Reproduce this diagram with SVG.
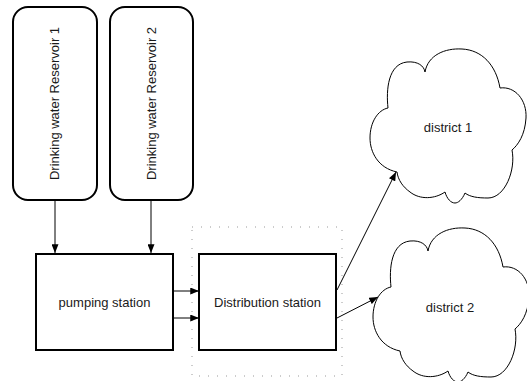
<svg xmlns="http://www.w3.org/2000/svg" width="527" height="381" viewBox="0 0 527 381">
<style>
.box{fill:#fff;stroke:#000;stroke-width:2}
.cloud{fill:#fff;stroke:#000;stroke-width:1}
.lbl{font-family:"Liberation Sans",Arial,sans-serif;font-size:13px;fill:#1a1a1a;text-anchor:middle;dominant-baseline:central}
.edge{fill:none;stroke:#000;stroke-width:1}
</style>
<defs>
<marker id="arr" viewBox="0 0 10 8" refX="10" refY="4" markerWidth="9" markerHeight="7" markerUnits="userSpaceOnUse" orient="auto">
<path d="M0,0 L10,4 L0,8 Z" fill="#000"/>
</marker>
<path id="cloudShape" d="M388,108 C386,90 388,64 407,62 C418,61 424,66 425,72 C428,55 445,48 462,49 C482,50 496,65 500,88 C515,86 527,100 526,118 C525,135 518,145 512,150 C516,170 505,198 488,198 C478,198 470,197 465,193 C462,200 458,203 455,203 C451,203 447,199 445,192 C435,199 420,200 410,192 C403,187 398,180 397,172 C378,168 370,152 370,138 C370,122 378,110 388,108 Z"/>
</defs>
<g id="container">
<rect x="192" y="227" width="150" height="149" fill="none" stroke="#999" stroke-width="1" stroke-dasharray="1 8"/>
</g>
<g id="reservoir1">
<rect class="box" x="13" y="7" width="84" height="193" rx="15" ry="15"/>
<text class="lbl" transform="translate(54,103.5) rotate(-90)">Drinking water Reservoir 1</text>
</g>
<g id="reservoir2">
<rect class="box" x="110" y="7" width="83" height="193" rx="15" ry="15"/>
<text class="lbl" transform="translate(151,103.5) rotate(-90)">Drinking water Reservoir 2</text>
</g>
<g id="pumping">
<rect class="box" x="36" y="254" width="137" height="96"/>
<text class="lbl" x="104.5" y="302">pumping station</text>
</g>
<g id="distribution">
<rect class="box" x="199" y="254" width="137" height="96"/>
<text class="lbl" x="267.5" y="302">Distribution station</text>
</g>
<g id="district1">
<use href="#cloudShape" class="cloud"/>
<text class="lbl" x="448" y="127">district 1</text>
</g>
<g id="district2">
<use href="#cloudShape" class="cloud" transform="translate(3,179)"/>
<text class="lbl" x="450" y="307">district 2</text>
</g>
<g id="connectors">
<line class="edge" x1="55" y1="201" x2="55" y2="253" marker-end="url(#arr)"/>
<line class="edge" x1="151" y1="201" x2="151" y2="253" marker-end="url(#arr)"/>
<line class="edge" x1="174" y1="291" x2="199" y2="291" marker-end="url(#arr)"/>
<line class="edge" x1="174" y1="318" x2="199" y2="318" marker-end="url(#arr)"/>
<line class="edge" x1="337" y1="290" x2="396" y2="172" marker-end="url(#arr)"/>
<line class="edge" x1="337" y1="318" x2="378" y2="297" marker-end="url(#arr)"/>
</g>
</svg>
